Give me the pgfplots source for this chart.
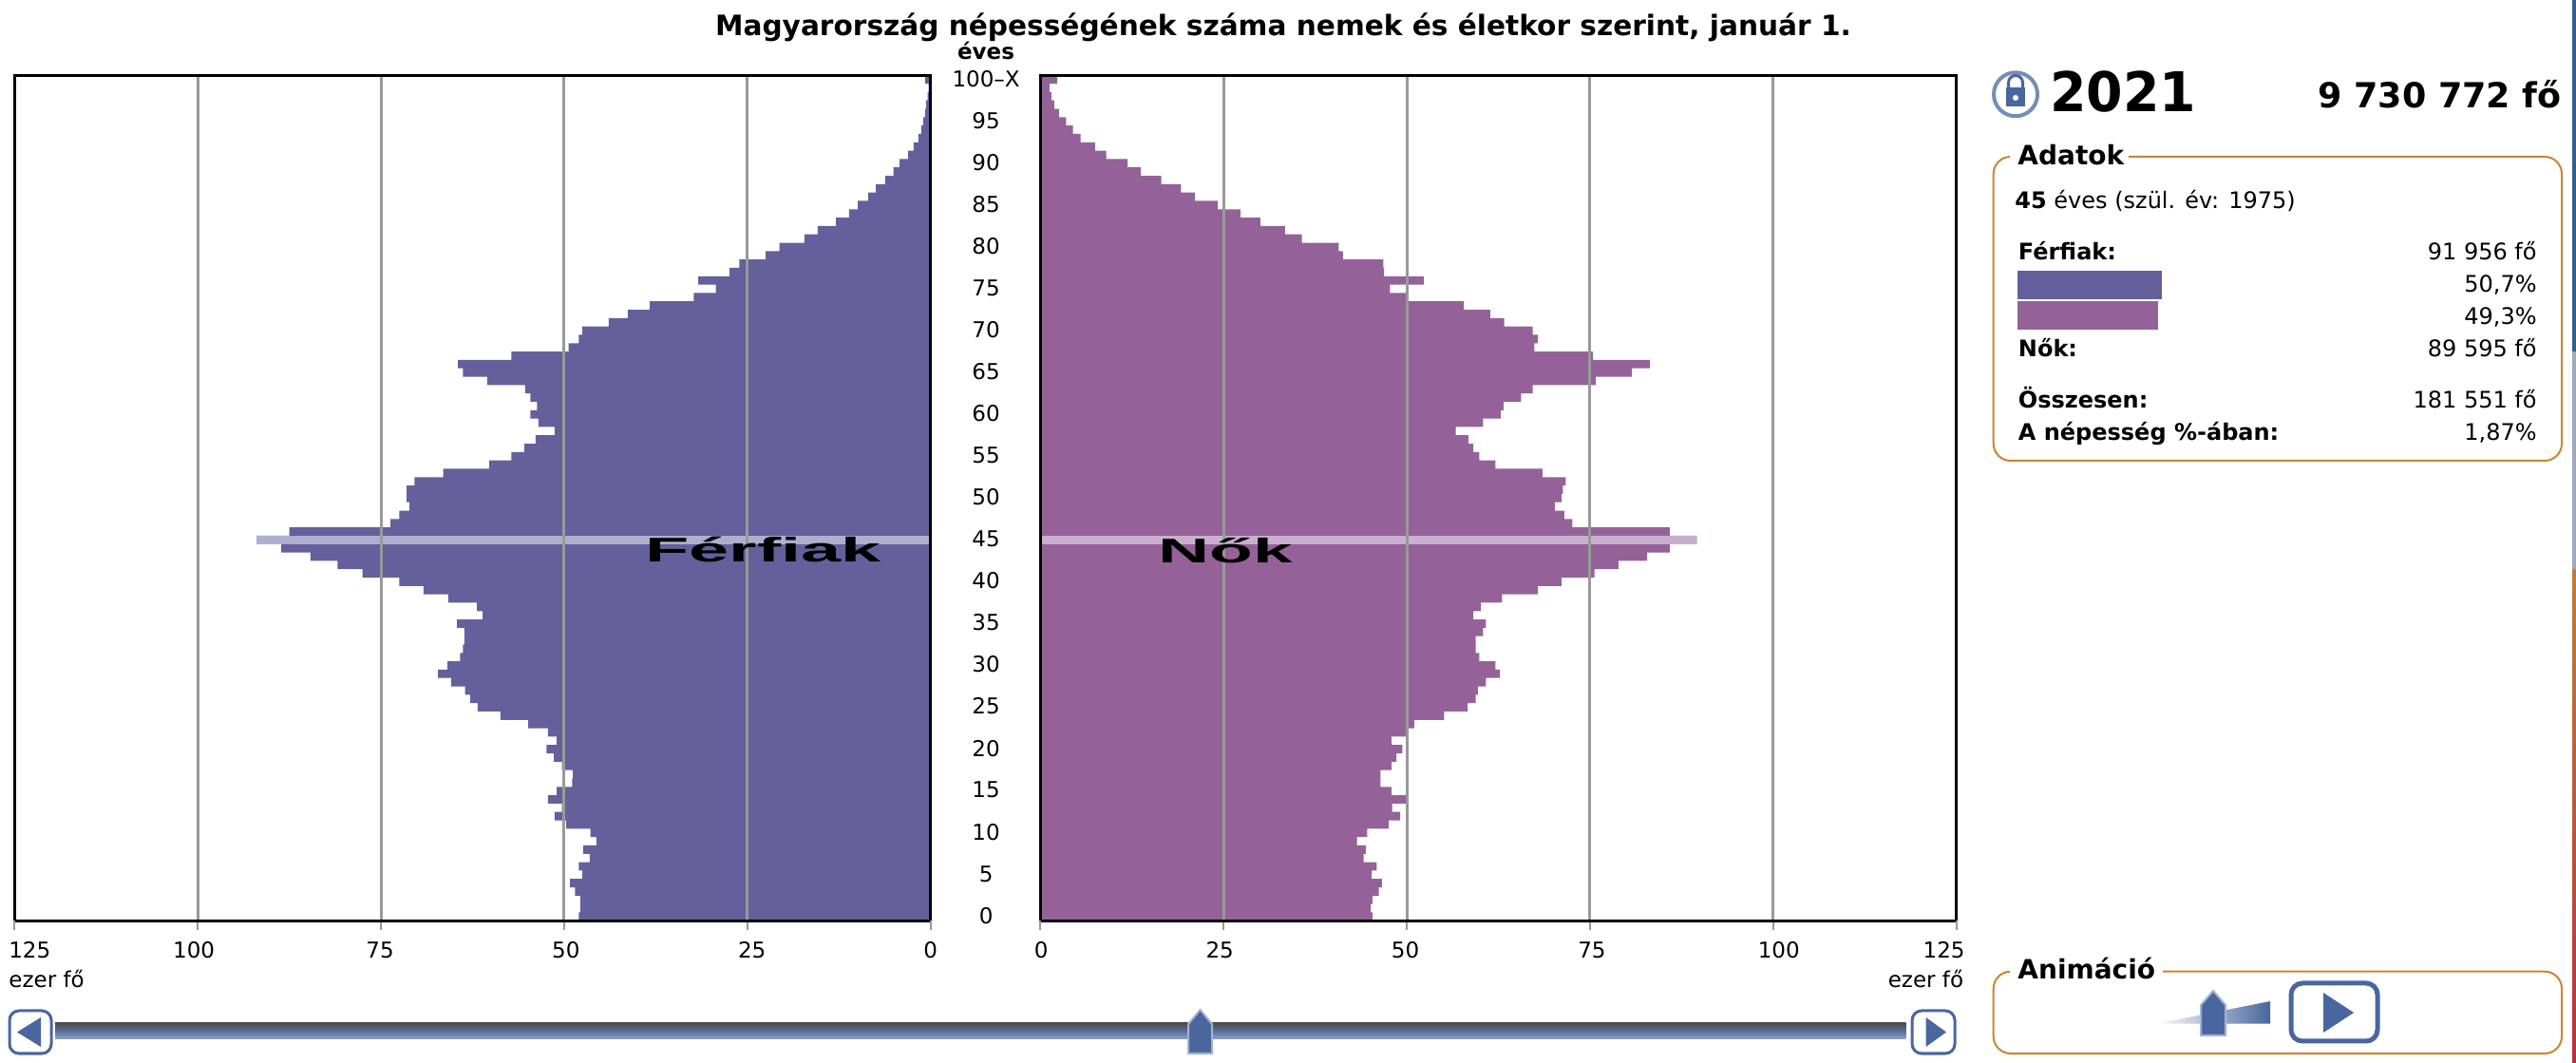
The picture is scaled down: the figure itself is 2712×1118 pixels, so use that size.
\documentclass[border=0pt]{standalone}
\usepackage{pgfplots}
\pgfplotsset{compat=1.18}
\usepackage{pgfplotstable}
\usepackage{fontspec}
\setmainfont{DejaVu Sans}
\newfontfamily\arialb[BoldFont={Liberation Sans Bold}]{Liberation Sans}
\definecolor{ferfi}{HTML}{63609B}
\definecolor{no}{HTML}{946299}
\definecolor{ferfil}{HTML}{B0AECF}
\definecolor{nol}{HTML}{C9AFCF}
\definecolor{gridg}{HTML}{999999}
\definecolor{narancs}{HTML}{CC8433}
\definecolor{gomb}{HTML}{4A669F}
\definecolor{csika}{HTML}{2F5F8F}
\definecolor{csikb}{HTML}{A0AABC}
\definecolor{csikc}{HTML}{BB8038}
\definecolor{csikd}{HTML}{B83040}
\newcommand\fs[1]{\fontsize{#1}{#1}\selectfont}
\newcommand\tl[2]{\makebox[0pt]{\hspace{#1pt}#2}}
\newcommand\gombrajz[4]{\draw[gomb,line width=1.5pt,fill=white,rounded corners=5pt] (#1,1118-#3) rectangle (#2,1118-#4);}
\newcommand\thumb[4]{\draw[gomb!50!white,line width=1pt,fill=gomb] (#1,1118-#4) -- (#2,1118-#4) -- (#2,1118-#3-15) -- ({(#1+#2)/2},1118-#3) -- (#1,1118-#3-15) -- cycle;}
\pgfplotstableread{
age male female
0 48 45.3
1 47.8 45.1
2 47.8 45.3
3 48.5 46.2
4 49.2 46.6
5 47.5 45.2
6 48 45.9
7 46.5 44.1
8 47.4 44.4
9 45.6 43.2
10 46.4 44.6
11 49.7 47.5
12 51.3 49.1
13 50.3 48
14 52.2 49.9
15 51 47.9
16 48.9 46.4
17 48.8 46.4
18 50.3 47.9
19 51.4 48.6
20 52.4 49.4
21 51 47.9
22 52.2 49.9
23 54.9 51
24 58.7 55.1
25 61.8 58.3
26 62.8 59.4
27 63.5 59.7
28 65.4 60.8
29 67.2 62.7
30 65.9 62.1
31 64.2 59.9
32 63.8 59.4
33 63.6 59.4
34 63.6 60.4
35 64.6 60.8
36 61.1 59.1
37 61.9 60.1
38 65.8 63
39 69.2 67.9
40 72.5 71.1
41 77.5 75.6
42 80.9 78.9
43 84.6 82.8
44 88.6 85.9
45 91.956 89.595
46 87.5 85.9
47 73.7 72.6
48 72.5 71.5
49 71.1 70.2
50 71.5 71.1
51 71.5 71.3
52 70.4 71.7
53 66.5 68.5
54 60.2 62.1
55 57.2 59.9
56 55.4 59.1
57 53.9 58.4
58 51.3 56.7
59 53.5 60.4
60 54.6 62.8
61 53.7 63.2
62 54.6 65.6
63 55.3 67.2
64 60.5 75.8
65 63.8 80.7
66 64.5 83.2
67 57.2 75.4
68 49.4 67.4
69 48 67.9
70 47.5 67.2
71 43.9 63.3
72 41.3 61.4
73 38.3 57.8
74 32.3 49.9
75 29.3 47.7
76 31.7 52.3
77 27.4 46.9
78 26.1 46.8
79 22.5 41.3
80 20.6 40.7
81 17.2 35.7
82 15.4 33.4
83 12.9 30
84 11.1 27.3
85 9.9 24.2
86 8.5 21.1
87 7.45 19.2
88 6.2 16.5
89 5.05 13.7
90 4.2 11.9
91 3.05 9
92 2.3 7.45
93 1.65 5.5
94 1.25 4.45
95 1 3.5
96 .75 2.55
97 .6 1.9
98 .4 1.5
99 .25 1.25
100 .75 2.3
}\nepesseg
\pgfplotsset{
 pyr/.style={
  scale only axis, width=482.15pt, height=445pt,
  xmin=0, xmax=125, ymin=-0.5, ymax=100.5,
  axis on top, clip=false,
  axis line style={black,line width=1.25pt},
  xmajorgrids, grid style={gridg,line width=1.5pt},
  xtick={0,25,50,75,100,125},
  xtick pos=bottom,
  major tick length=5pt,
  tick align=outside,
  x tick style={gridg,line width=1pt},
  y tick style={draw=none},
  extra x ticks={0,125},
  extra x tick labels={},
  extra x tick style={grid=none,tick style={black,line width=1.25pt}},
  tick label style={font=\fs{11.5}},
  xticklabel style={yshift=-2.7pt},
  xbar, bar shift=0pt, bar width=1,
 }
}
\begin{document}
\begin{tikzpicture}[x=0.5pt,y=0.5pt]
\useasboundingbox (0,0) rectangle (2712,1118);
% jobb szeli csik
\fill[csika] (2708,1118) rectangle (2712,748);
\fill[csikb] (2708,748) rectangle (2712,518);
\shade[top color=csikc,bottom color=csikd] (2708,518) rectangle (2712,0);
% cim
\node[anchor=base,font=\fs{14.8}\bfseries] at (1351,1118-37.3) {Magyarország népességének száma nemek és életkor szerint, január 1.};
\node[anchor=base,font=\fs{11.5}\bfseries] at (1038,1118-63) {éves};
% ferfiak
\begin{axis}[pyr, at={(7.65pt,74.35pt)}, anchor=south west, x dir=reverse,
  xticklabels={\tl{0}{0},\tl{5}{25},\tl{2}{50},\tl{-1}{75},\tl{-4}{100},\tl{16}{125}},
  ytick=\empty]
\addplot[fill=ferfi,draw=none] table[x=male,y=age]{\nepesseg};
\addplot[fill=ferfil,draw=none] coordinates {(91.956,45)};
\end{axis}
% nok
\begin{axis}[pyr, at={(547.65pt,74.35pt)}, anchor=south west,
  xticklabels={\tl{1}{0},\tl{-4}{25},\tl{-1.5}{50},\tl{2}{75},\tl{6}{100},\tl{-13}{125}},
  ytick={0,5,...,95,100},
  yticklabels={0,5,10,15,20,25,30,35,40,45,50,55,60,65,70,75,80,85,90,95,100--X},
  ytick pos=left,
  yticklabel style={anchor=center,xshift=-23.6pt,yshift=.5pt},
  ]
\addplot[fill=no,draw=none] table[x=female,y=age]{\nepesseg};
\addplot[fill=nol,draw=none] coordinates {(89.595,45)};
\end{axis}
% feliratok a piramison
\node[font=\arialb\bfseries\fs{18},xscale=2.1,inner sep=0] at (803.5,1118-578) {Férfiak};
\node[font=\arialb\bfseries\fs{18},xscale=2.08,inner sep=0] at (1290,1118-580) {Nők};
% ezer fo
\node[anchor=base west,font=\fs{11.5},inner sep=0] at (9,1118-1039.5) {ezer fő};
\node[anchor=base east,font=\fs{11.5},inner sep=0] at (2067.5,1118-1039.5) {ezer fő};
% fejlec jobb oldal
\draw[gomb!75,line width=2pt] (2122,1118-99.3) circle (23);
\fill[gomb] (2112,1118-92) rectangle ++(20,-20) ;
\draw[gomb,line width=1.5pt] (2114.5,1118-92) -- ++(0,5) arc (180:0:7.5) -- ++(0,-5);
\fill[white] (2122,1118-103) circle (3);
\node[anchor=base west,font=\fs{28.8}\bfseries,inner sep=0,xscale=.96] at (2158,1118-118) {2021};
\node[anchor=base east,font=\fs{18.2}\bfseries,inner sep=0] at (2697,1118-114) {9 730 772 fő};
% Adatok doboz
\draw[narancs,line width=1pt,rounded corners=9pt] (2098.7,1118-165) rectangle (2697,1118-485);
\fill[white] (2116,1118-150) rectangle (2241,1118-180);
\node[anchor=base west,font=\fs{14}\bfseries,inner sep=0] at (2124,1118-174) {Adatok};
\node[anchor=base west,font=\fs{12},inner sep=0] at (2121,1118-220) {\textbf{45} éves (szül. év: 1975)};
\begin{scope}[every node/.style={font=\fs{12},inner sep=0}]
\node[anchor=base west] at (2124.5,1118-273.5) {\textbf{Férfiak:}};
\node[anchor=base west] at (2124.5,1118-375.5) {\textbf{Nők:}};
\node[anchor=base west] at (2124.5,1118-429.5) {\textbf{Összesen:}};
\node[anchor=base west] at (2124.5,1118-464) {\textbf{A népesség \%-ában:}};
\node[anchor=base east] at (2671,1118-273.5) {91 956 fő};
\node[anchor=base east] at (2671,1118-307.5) {50,7\%};
\node[anchor=base east] at (2671,1118-341.5) {49,3\%};
\node[anchor=base east] at (2671,1118-375.5) {89 595 fő};
\node[anchor=base east] at (2671,1118-429.5) {181 551 fő};
\node[anchor=base east] at (2671,1118-464) {1,87\%};
\end{scope}
\begin{axis}[hide axis, scale only axis, at={(1062pt,385.15pt)}, anchor=south west,
  width=149.7pt, height=31.85pt, xmin=0, xmax=100, ymin=-0.5, ymax=1.5,
  xbar, bar shift=0pt, bar width=0.93]
\addplot[fill=no,draw=none] coordinates {(49.3,0)};
\addplot[fill=ferfi,draw=none] coordinates {(50.7,1)};
\end{axis}
% csuszka
\shade[top color=black!70,bottom color=gomb!60!white,middle color=gomb!80!gridg] (58,1118-1077) rectangle (2006.7,1118-1094);
\gombrajz{10}{54}{1064}{1109}
\fill[gomb] (43,1118-1071) -- (43,1118-1102) -- (18,1118-1086.5) -- cycle;
\gombrajz{2013}{2058}{1064}{1109}
\fill[gomb] (2027.6,1118-1071) -- (2027.6,1118-1102) -- (2049,1118-1086.5) -- cycle;
\thumb{1251}{1276}{1063}{1109}
% Animacio doboz
\draw[narancs,line width=1pt,rounded corners=9pt] (2098.7,1118-1022.7) rectangle (2697,1118-1109);
\fill[white] (2116,1118-1008) rectangle (2277,1118-1036);
\node[anchor=base west,font=\fs{14}\bfseries,inner sep=0] at (2124,1118-1031) {Animáció};
\shade[left color=white,right color=gomb] (2270,1118-1077.7) -- (2390,1118-1077.7) -- (2390,1118-1054) -- cycle;
\thumb{2317}{2343}{1043}{1090}
\draw[gomb,line width=2.5pt,fill=white,rounded corners=6pt] (2412,1118-1035) rectangle (2503,1118-1096);
\fill[gomb] (2446,1118-1045) -- (2446,1118-1087) -- (2478,1118-1066) -- cycle;
\end{tikzpicture}
\end{document}
